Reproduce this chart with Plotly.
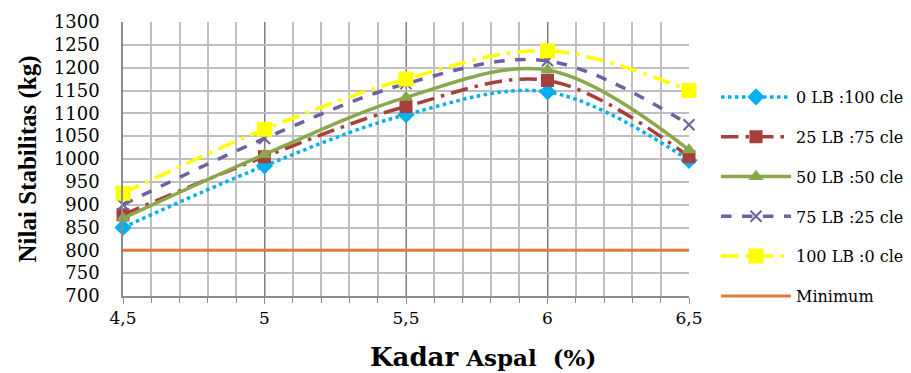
import plotly.graph_objects as go

x_vals = [4.5, 5, 5.5, 6, 6.5]
x_ticktext = ["4,5", "5", "5,5", "6", "6,5"]
y_ticks = [700, 750, 800, 850, 900, 950, 1000, 1050, 1100, 1150, 1200, 1250, 1300]

s_0_100 = [850, 985, 1097, 1147, 997]
s_25_75 = [878, 1005, 1115, 1172, 1005]
s_50_50 = [870, 1010, 1135, 1195, 1020]
s_75_25 = [900, 1045, 1165, 1215, 1075]
s_100_0 = [925, 1065, 1175, 1237, 1150]
minimum = [800, 800, 800, 800, 800]

names = ["0 LB :100 cle", "25 LB :75 cle", "50 LB :50 cle", "75 LB :25 cle", "100 LB :0 cle", "Minimum"]

series = [
    (names[0], s_0_100, "#00B0F0", "dot", "diamond", 11, 3.5, "spline"),
    (names[1], s_25_75, "#A5403D", "longdashdot", "square", 11, 3.5, "spline"),
    (names[2], s_50_50, "#8AA84B", "solid", "triangle-up", 10, 3.5, "spline"),
    (names[3], s_75_25, "#7060A0", "dash", "x-thin", 11, 3.5, "spline"),
    (names[4], s_100_0, "#FFFF00", "longdashdot", "square", 13, 3.5, "spline"),
    (names[5], minimum, "#E07B39", "solid", None, 0, 3, "linear"),
]

SERIF = "DejaVu Serif"
TIMES = "Liberation Serif"

L, R, T, B = 123, 689, 22, 296
W, H = 911, 373
PW, PH = R - L, B - T

fig = go.Figure()
for i, (nm, ys, col, dash, sym, ms, lw, shape) in enumerate(series):
    mode = "lines+markers" if sym else "lines"
    marker = dict(symbol=sym, size=ms, color=col, line=dict(color=col, width=2)) if sym else None
    fig.add_trace(go.Scatter(
        x=x_vals, y=ys, name=nm, mode=mode,
        line=dict(color=col, width=lw, dash=dash, shape=shape, smoothing=1.0),
        marker=marker, legendgroup=f"g{i}", cliponaxis=False,
    ))

fig.add_annotation(
    xref="paper", yref="paper", x=(483 - L) / PW, y=(B - 357) / PH,
    xanchor="center", yanchor="middle", showarrow=False,
    text="<b><span style='font-size:26px'>Kadar</span> Aspal  (%)</b>",
    font=dict(family=SERIF, size=23, color="black"),
)

fig.update_layout(
    width=W, height=H,
    margin=dict(l=L, r=W - R, t=T, b=H - B, autoexpand=False),
    paper_bgcolor="white", plot_bgcolor="white",
    font=dict(family=SERIF, size=16, color="black"),
    showlegend=True,
    legend=dict(
        x=(716 - L) / PW, y=(B - 80) / PH, xanchor="left", yanchor="top",
        font=dict(family=SERIF, size=16, color="black"),
        tracegroupgap=16, bgcolor="rgba(0,0,0,0)", itemwidth=70,
    ),
    xaxis=dict(
        range=[4.5, 6.5], tickvals=x_vals, ticktext=x_ticktext,
        showgrid=True, gridcolor="#7F7F7F", gridwidth=1.2,
        minor=dict(dtick=0.1, showgrid=True, gridcolor="#BFBFBF", gridwidth=1.5,
                   ticks="outside", ticklen=5, tickcolor="#8C8C8C"),
        ticks="outside", ticklen=6, tickcolor="#8C8C8C",
        showline=True, linecolor="#8C8C8C", linewidth=1.5,
        zeroline=False,
        tickfont=dict(family=SERIF, size=17, color="black"),
        ticklabelstandoff=0,
    ),
    yaxis=dict(
        range=[700, 1300], tickvals=y_ticks, ticktext=[str(v) for v in y_ticks],
        showgrid=True, gridcolor="#BFBFBF", gridwidth=1.5,
        ticks="", showline=True, linecolor="#8C8C8C", linewidth=1.5,
        zeroline=False, tickfont=dict(family=SERIF, size=18, color="black"),
        ticklabelstandoff=18,
        title=dict(text="<b>Nilai Stabilitas (kg)</b>", font=dict(size=25, family=TIMES, color="black"), standoff=10),
    ),
)

fig.write_html("out.html")
